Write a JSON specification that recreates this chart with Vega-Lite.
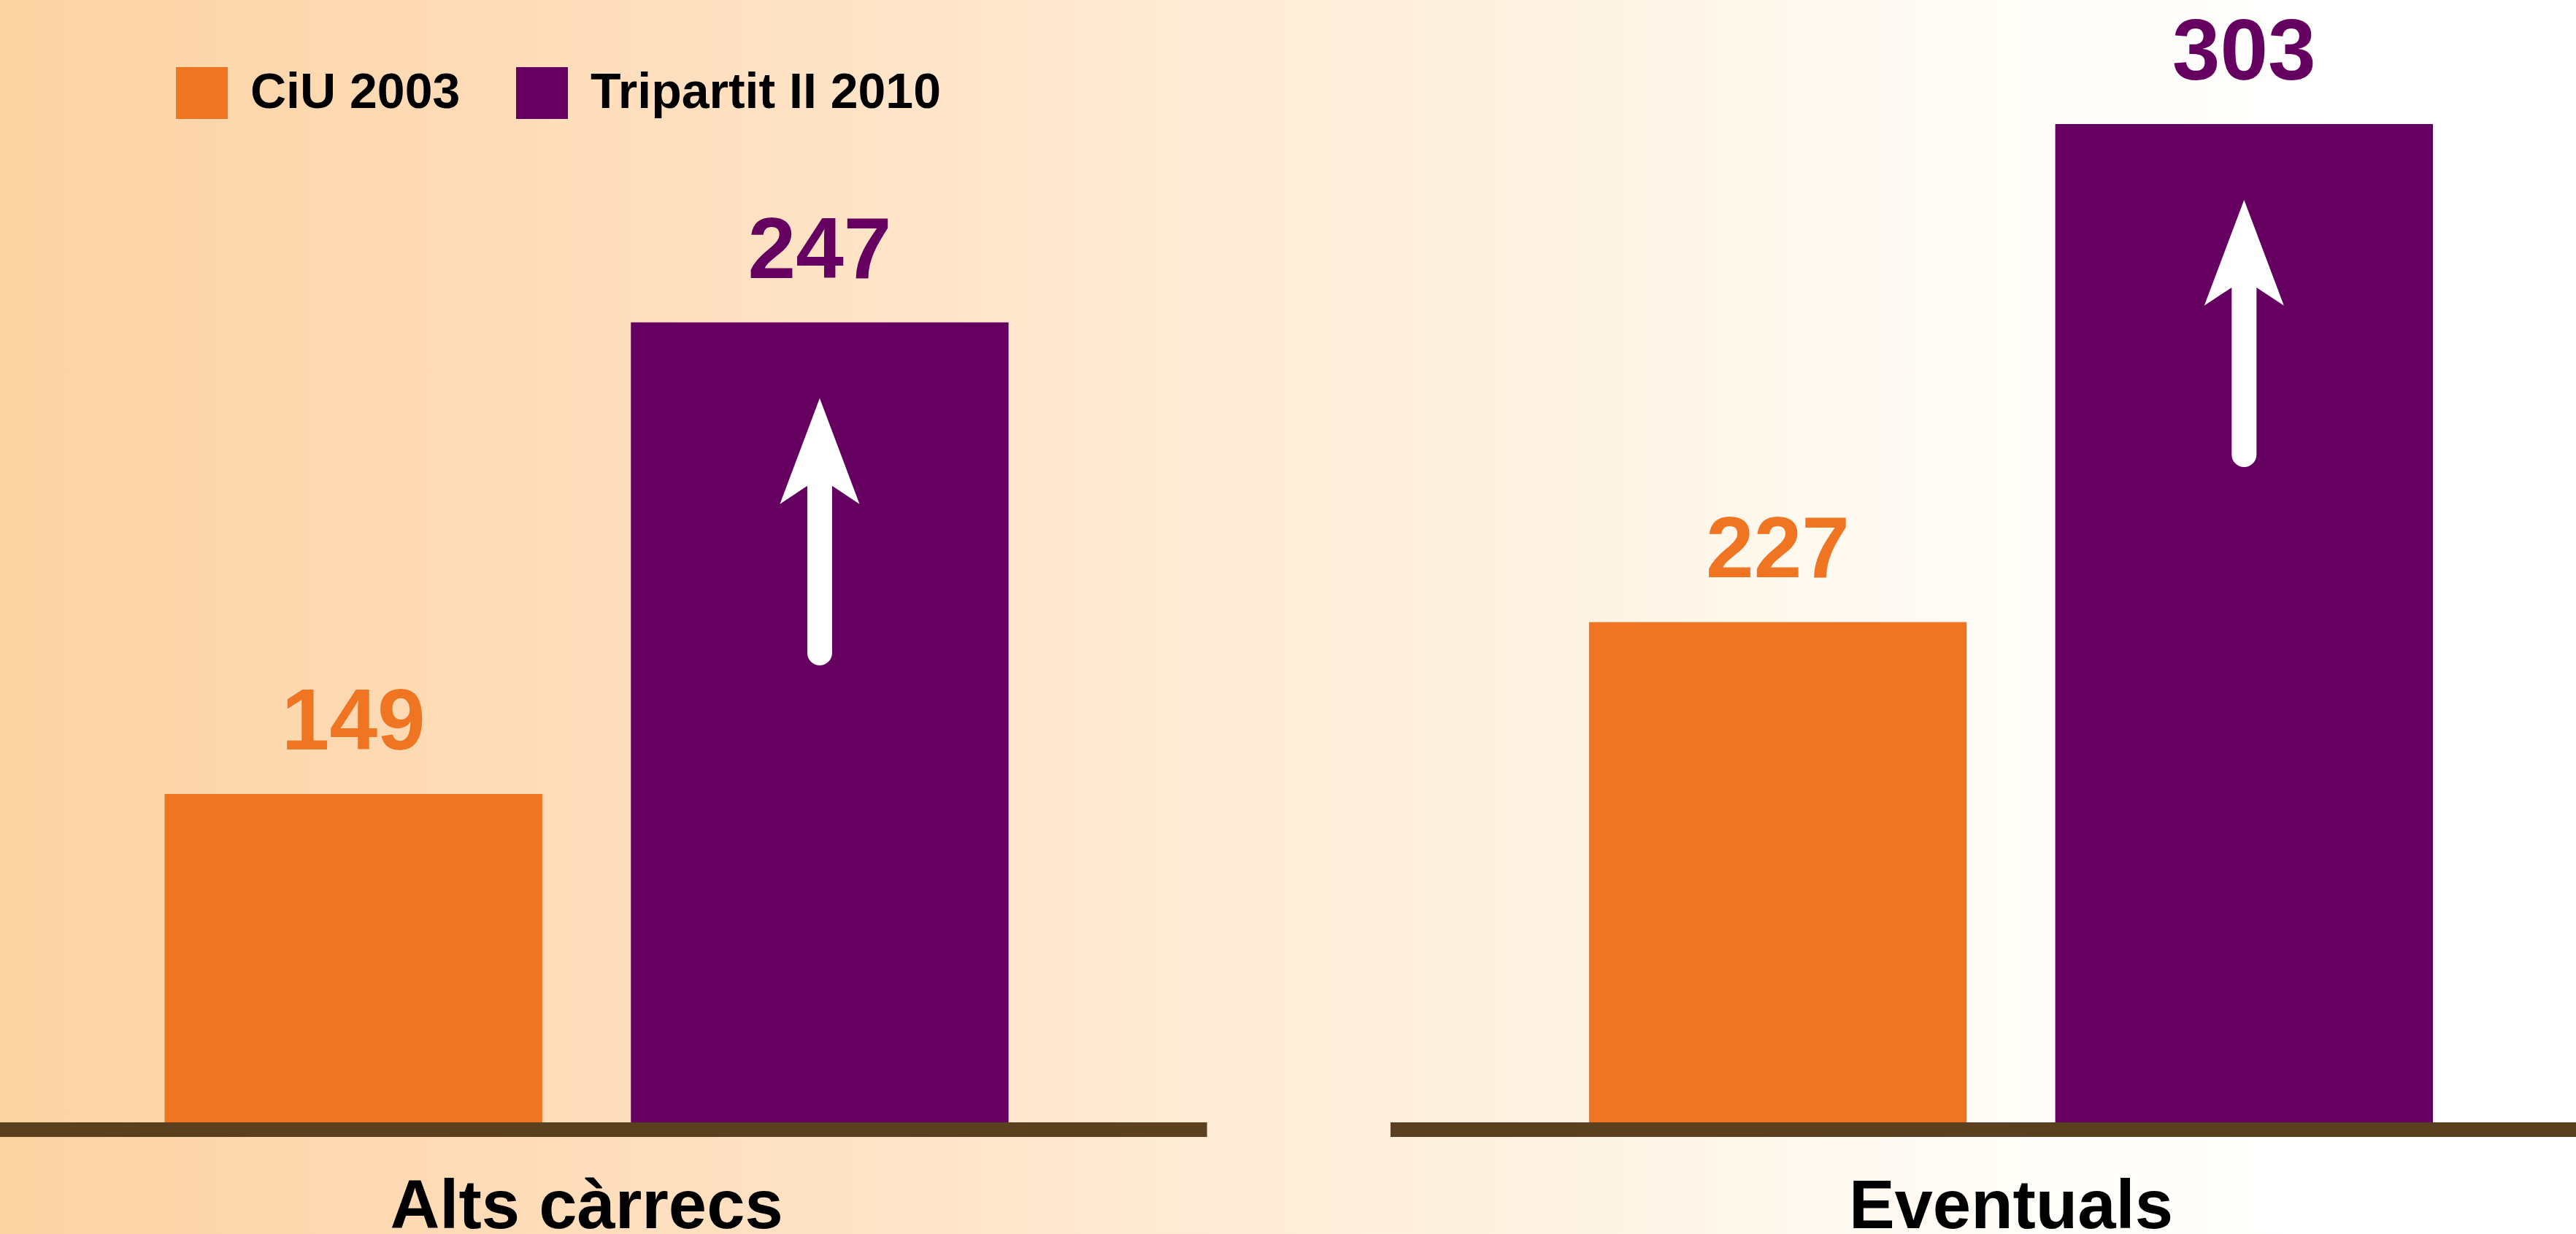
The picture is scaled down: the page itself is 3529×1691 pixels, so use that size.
{
  "$schema": "https://vega.github.io/schema/vega-lite/v6.json",
  "width": 3529,
  "height": 1691,
  "padding": 0,
  "autosize": {"type": "none"},
  "background": "#ffffff",
  "config": {
    "view": {
      "stroke": null,
      "fill": {
        "gradient": "linear",
        "x1": 0, "y1": 0, "x2": 1, "y2": 0,
        "stops": [
          {"offset": 0, "color": "#FCD3A2"},
          {"offset": 0.22, "color": "#FEDDBB"},
          {"offset": 0.42, "color": "#FFE8D0"},
          {"offset": 0.61, "color": "#FEF3E3"},
          {"offset": 0.78, "color": "#FFFDF8"},
          {"offset": 0.9, "color": "#FFFFFF"},
          {"offset": 1, "color": "#FFFFFF"}
        ]
      }
    },
    "font": "Liberation Sans"
  },
  "data": {
    "values": [
      {"category": "Alts càrrecs", "series": "CiU 2003", "value": 149, "bar": 149},
      {"category": "Alts càrrecs", "series": "Tripartit II 2010", "value": 247, "bar": 363},
      {"category": "Eventuals", "series": "CiU 2003", "value": 227, "bar": 227},
      {"category": "Eventuals", "series": "Tripartit II 2010", "value": 303, "bar": 453}
    ]
  },
  "layer": [
    {
      "mark": {"type": "bar", "opacity": 1},
      "encoding": {
        "x": {"field": "category", "type": "nominal", "axis": null, "scale": {"paddingInner": 0.4075, "paddingOuter": 0.108, "align": 0.535}},
        "xOffset": {"field": "series", "type": "nominal", "scale": {"paddingInner": 0.19, "paddingOuter": 0}},
        "y": {"field": "bar", "type": "quantitative", "axis": null, "scale": {"domain": [-50.66, 509.27], "nice": false, "zero": false}},
        "color": {
          "field": "series",
          "type": "nominal",
          "scale": {"domain": ["CiU 2003", "Tripartit II 2010"], "range": ["#F07522", "#650061"]},
          "legend": {
            "orient": "none",
            "legendX": 241,
            "legendY": 92,
            "direction": "horizontal",
            "title": null,
            "symbolType": "square",
            "symbolSize": 5041,
            "symbolStrokeWidth": 0,
            "symbolOpacity": 1,
            "labelFont": "Liberation Sans",
            "labelFontSize": 68,
            "labelFontWeight": "bold",
            "labelColor": "#000000",
            "labelOffset": 31,
            "columnPadding": 76,
            "labelLimit": 0,
            "padding": 0
          }
        }
      }
    },
    {
      "transform": [{"filter": "datum.series == 'CiU 2003'"}],
      "mark": {"type": "tick", "orient": "horizontal", "color": "#5B4020", "opacity": 1, "size": 1700, "thickness": 20},
      "encoding": {
        "x": {"field": "category", "type": "nominal"},
        "y": {"datum": -3.31, "type": "quantitative"}
      }
    },
    {
      "transform": [{"filter": "datum.series == 'Tripartit II 2010'"}],
      "mark": {
        "type": "point",
        "shape": "M0,-1 L0.298,-0.208 L0.093,-0.344 L0.093,0.907 A0.093,0.093 0 0 1 -0.093,0.907 L-0.093,-0.344 L-0.298,-0.208 Z",
        "size": 133956,
        "filled": true,
        "fill": "#ffffff",
        "opacity": 1,
        "strokeWidth": 0,
        "yOffset": 287
      },
      "encoding": {
        "x": {"field": "category", "type": "nominal"},
        "xOffset": {"field": "series", "type": "nominal"},
        "y": {"field": "bar", "type": "quantitative"}
      }
    },
    {
      "mark": {"type": "text", "font": "Liberation Sans", "fontSize": 118, "fontWeight": "bold", "baseline": "alphabetic", "align": "center", "dy": -61},
      "encoding": {
        "x": {"field": "category", "type": "nominal"},
        "xOffset": {"field": "series", "type": "nominal"},
        "y": {"field": "bar", "type": "quantitative"},
        "text": {"field": "value", "type": "quantitative"},
        "color": {"field": "series", "type": "nominal"}
      }
    },
    {
      "transform": [{"filter": "datum.series == 'CiU 2003'"}],
      "mark": {"type": "text", "font": "Liberation Sans", "fontSize": 94, "fontWeight": "bold", "baseline": "alphabetic", "align": "center", "dy": 145, "color": "#000000"},
      "encoding": {
        "x": {"field": "category", "type": "nominal"},
        "y": {"datum": 0, "type": "quantitative"},
        "text": {"field": "category", "type": "nominal"}
      }
    }
  ]
}
